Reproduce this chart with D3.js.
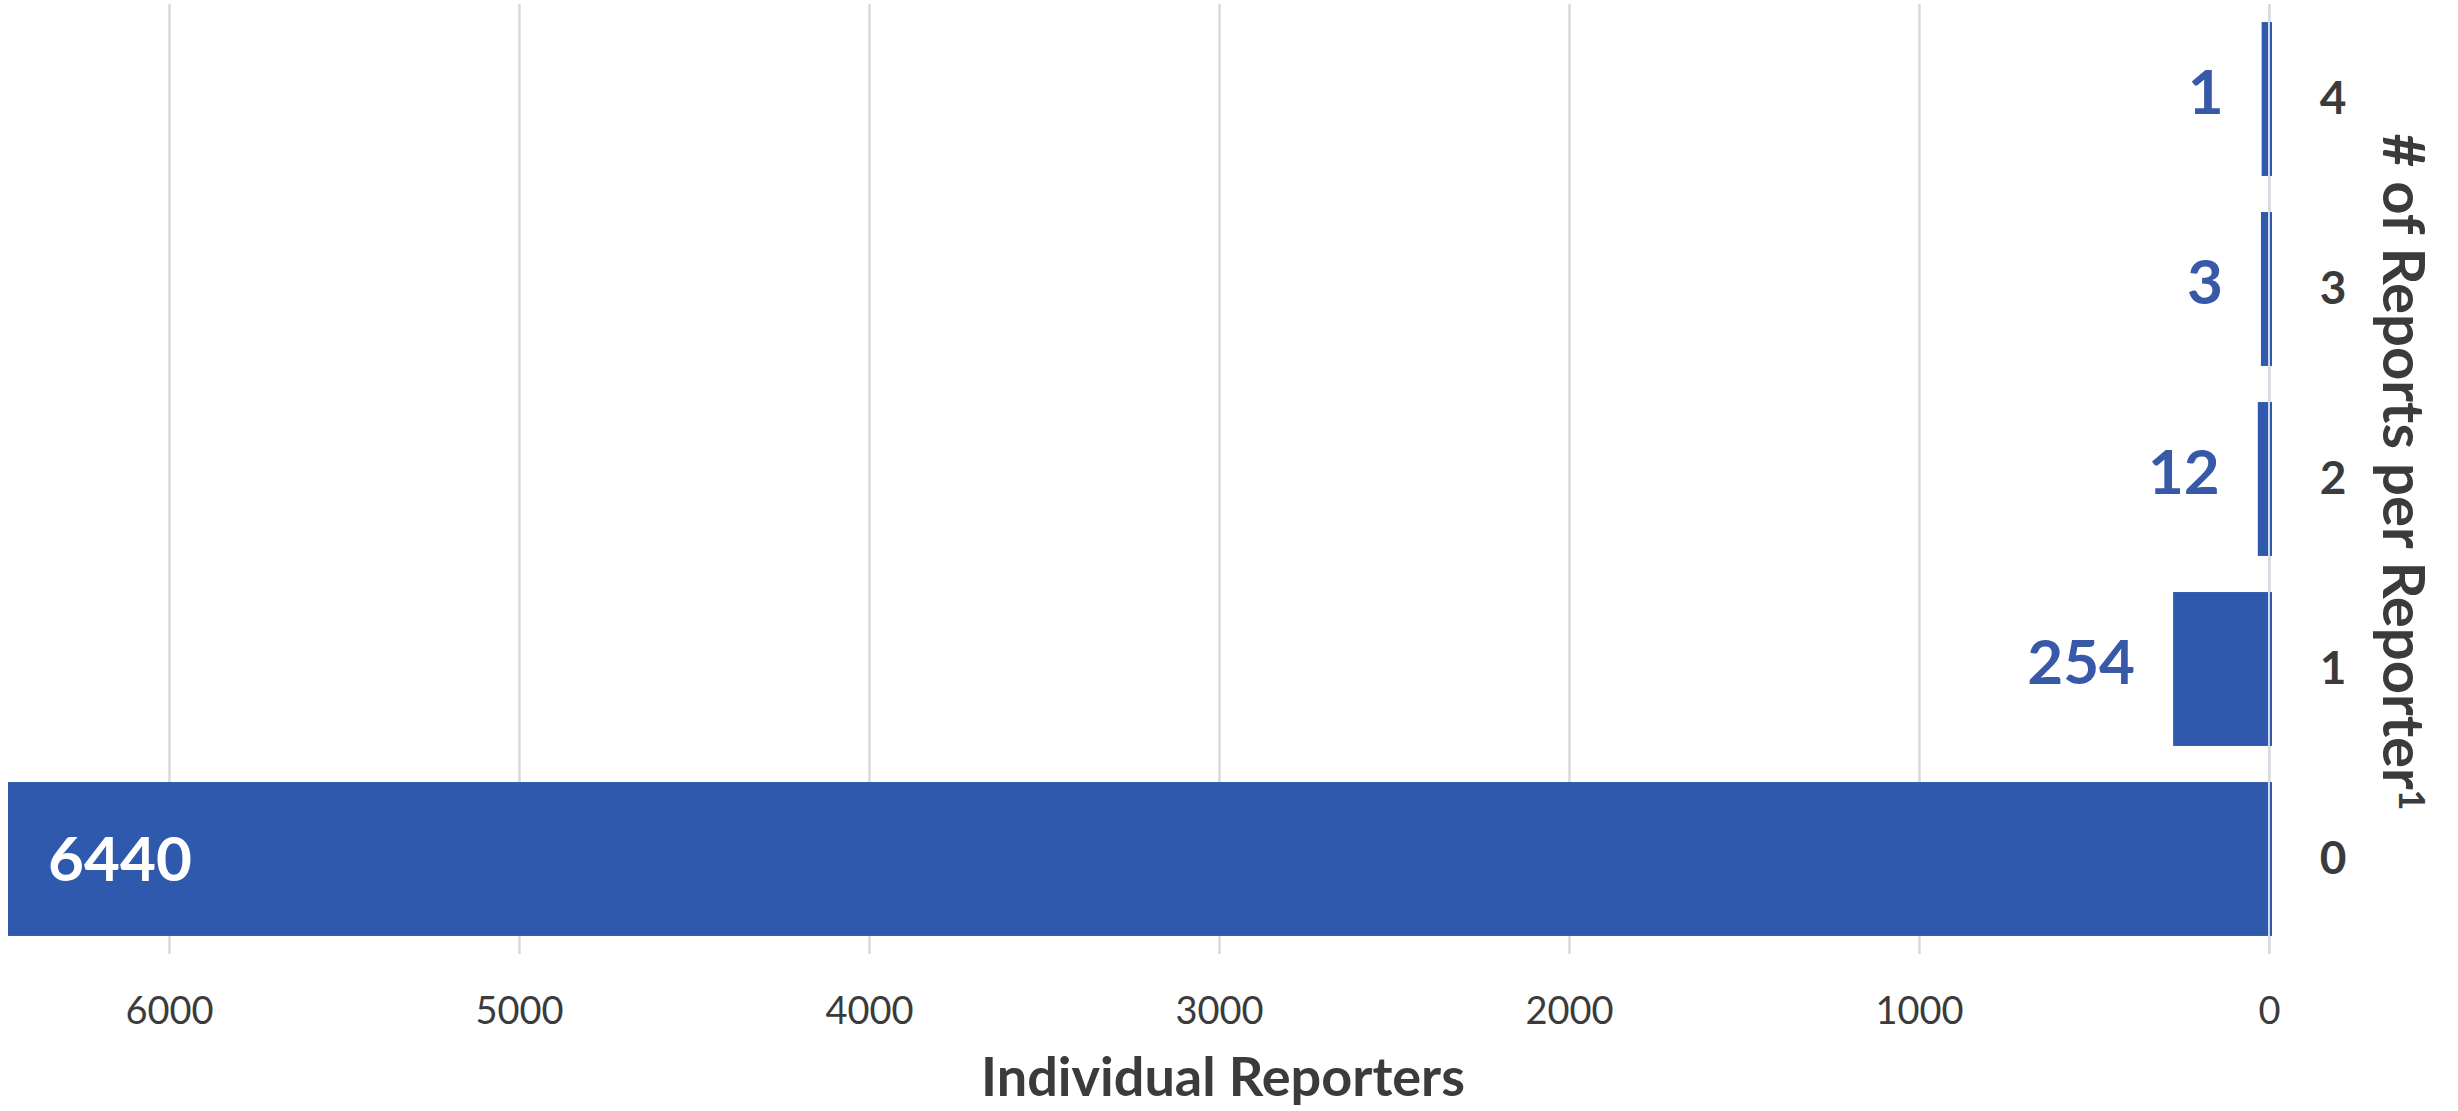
<!DOCTYPE html>
<html>
<head>
<meta charset="utf-8">
<script src="https://cdn.jsdelivr.net/npm/d3@7"></script>
<style>
  body { margin: 0; background: #fff; }
  text { font-family: Lato, "Open Sans", sans-serif; }
</style>
</head>
<body>
<div id="chart"></div>
<script>
// reports per reporter (top to bottom as drawn)
const categories = ["4", "3", "2", "1", "0"];
const reporters = [1, 3, 12, 254, 6440];
const xTicks = [6000, 5000, 4000, 3000, 2000, 1000, 0];
const xTitle = "Individual Reporters";
const yTitle = "# of Reports per Reporter";

const width = 2458, height = 1111;
const barColor = "#2E59AD";
const labelBlue = "#3858A8";
const textColor = "#3B3B3B";

const data = categories.map((c, i) => ({ cat: c, value: reporters[i] }));

const svg = d3.select("#chart")
    .append("svg")
    .attr("width", width)
    .attr("height", height);

// axis reversed: 0 on the right
const x = d3.scaleLinear()
    .domain([0, 6000])
    .range([2269, 169]);

const y = d3.scaleBand()
    .domain(categories)
    .range([4, 954])
    .paddingInner(0.19)
    .paddingOuter(0.095);

// gridlines + tick labels
const xAxis = svg.append("g")
    .attr("transform", "translate(0,954)")
    .call(d3.axisBottom(x)
        .tickValues(xTicks)
        .tickSize(-950)
        .tickPadding(43)
        .tickFormat(d3.format("d")));
xAxis.select(".domain").remove();
xAxis.selectAll("line")
    .attr("stroke", "#D9D9D9")
    .attr("stroke-width", 2.5);
xAxis.selectAll("text")
    .attr("fill", textColor)
    .style("font-size", "38px");

// bars (Excel draws them slightly past both ends)
svg.append("g")
    .selectAll("rect")
    .data(data)
    .enter().append("rect")
    .attr("x", d => x(d.value) - 7)
    .attr("y", d => y(d.cat))
    .attr("width", d => x(0) - x(d.value) + 10)
    .attr("height", y.bandwidth())
    .attr("fill", barColor);

// axis line over the bars
svg.append("line")
    .attr("x1", x(0)).attr("x2", x(0))
    .attr("y1", 4).attr("y2", 954)
    .attr("stroke", "#D4D9E6")
    .attr("stroke-width", 2);

// value labels
svg.append("g")
    .selectAll("text")
    .data(data)
    .enter().append("text")
    .attr("x", d => d.value > 1000 ? x(d.value) + 33 : x(d.value) - 45)
    .attr("y", d => y(d.cat) + y.bandwidth() / 2 + (d.value > 1000 ? 0 : -7))
    .attr("dy", "0.36em")
    .attr("text-anchor", d => d.value > 1000 ? "start" : "end")
    .attr("fill", d => d.value > 1000 ? "#fff" : labelBlue)
    .style("font-size", "62px")
    .style("font-weight", "bold")
    .text(d => d.value);

// category axis on the right
const yAxis = svg.append("g")
    .attr("transform", "translate(" + x(0) + ",0)")
    .call(d3.axisRight(y).tickSize(0).tickPadding(64));
yAxis.select(".domain").remove();
yAxis.selectAll("text")
    .attr("text-anchor", "middle")
    .attr("fill", textColor)
    .style("font-size", "46px")
    .style("font-weight", "bold");

// axis titles
svg.append("text")
    .attr("x", 1223)
    .attr("y", 1096)
    .attr("text-anchor", "middle")
    .attr("fill", textColor)
    .style("font-size", "54px")
    .style("font-weight", "bold")
    .text(xTitle);

const yt = svg.append("text")
    .attr("transform", "translate(2383,472) rotate(90)")
    .attr("text-anchor", "middle")
    .attr("fill", textColor)
    .style("font-size", "58px")
    .style("font-weight", "bold")
    .text(yTitle);
yt.append("tspan")
    .attr("dy", "-0.45em")
    .style("font-size", "36px")
    .text("1");
</script>
</body>
</html>
